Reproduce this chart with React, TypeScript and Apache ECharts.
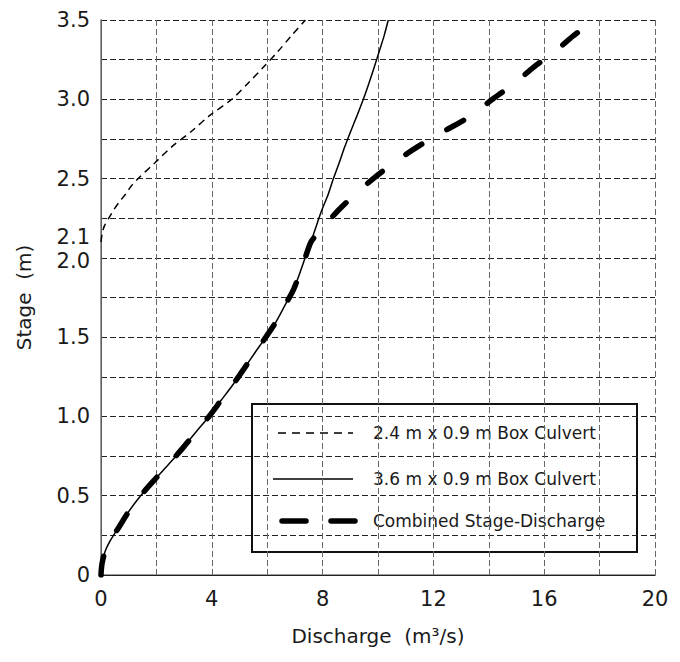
import React, { useEffect, useRef } from 'react';
import * as echarts from 'echarts';

// Stage (m) / discharge (m³/s) pairs for each culvert and the combined rating
const stage3600 = [0, 0.05, 0.1, 0.15, 0.2, 0.25, 0.3, 0.4, 0.5, 0.6, 0.7, 0.8, 0.9, 1.0, 1.1, 1.2, 1.3, 1.4, 1.5, 1.6, 1.7, 1.8, 1.9, 2.0, 2.1, 2.2, 2.3, 2.4, 2.5, 2.6, 2.7, 2.8, 2.9, 3.0, 3.1, 3.2, 3.3, 3.4, 3.5];
const q3600 = [0, 0.02, 0.07, 0.15, 0.28, 0.45, 0.64, 1.0, 1.43, 1.93, 2.45, 2.95, 3.42, 3.9, 4.33, 4.76, 5.16, 5.55, 5.95, 6.33, 6.64, 6.95, 7.17, 7.37, 7.58, 7.77, 7.97, 8.2, 8.39, 8.6, 8.8, 9.02, 9.25, 9.47, 9.67, 9.86, 10.04, 10.22, 10.37];

const stage2400 = [2.1, 2.15, 2.2, 2.25, 2.3, 2.35, 2.4, 2.45, 2.5, 2.6, 2.7, 2.8, 2.9, 3.0, 3.1, 3.2, 3.3, 3.4, 3.5];
const q2400 = [0, 0.04, 0.12, 0.28, 0.45, 0.65, 0.88, 1.08, 1.34, 1.95, 2.55, 3.28, 3.94, 4.72, 5.3, 5.85, 6.38, 6.87, 7.38];

const stageCombined = [0, 0.05, 0.1, 0.15, 0.2, 0.25, 0.3, 0.4, 0.5, 0.6, 0.7, 0.8, 0.9, 1.0, 1.1, 1.2, 1.3, 1.4, 1.5, 1.6, 1.7, 1.8, 1.9, 2.0, 2.1, 2.15, 2.2, 2.3, 2.4, 2.5, 2.6, 2.7, 2.8, 2.9, 3.0, 3.1, 3.2, 3.3, 3.4, 3.5];
const qCombined = [0, 0.02, 0.07, 0.15, 0.28, 0.45, 0.64, 1.0, 1.43, 1.93, 2.45, 2.95, 3.42, 3.9, 4.33, 4.76, 5.16, 5.55, 5.95, 6.33, 6.64, 6.95, 7.17, 7.37, 7.58, 7.8, 8.05, 8.57, 9.17, 9.83, 10.58, 11.42, 12.4, 13.4, 14.13, 14.93, 15.6, 16.38, 17.05, 17.85];

const stageLabels = [0, 0.5, 1, 1.5, 2, 2.1, 2.5, 3, 3.5];
const dischargeLabels = [0, 4, 8, 12, 16, 20];

const seriesNames = [
  '2.4 m x 0.9 m Box Culvert',
  '3.6 m x 0.9 m Box Culvert',
  'Combined Stage-Discharge',
];

const FONT = 'DejaVu Sans';
const TEXT = '#1a1a1a';
const TICK_SIZE = 21;

const pairs = (q: number[], h: number[]) => q.map((v, i) => [v, h[i]]);

export default function App() {
  const ref = useRef<HTMLDivElement>(null);

  useEffect(() => {
    document.body.style.margin = '0';
    if (!ref.current) return;
    const chart = echarts.init(ref.current, null, { renderer: 'svg' });

    const rows = [433, 479, 521];
    const tickText = { fontFamily: FONT, fontSize: TICK_SIZE, color: TEXT };

    chart.setOption({
      animation: false,
      backgroundColor: '#fff',
      textStyle: { fontFamily: FONT },
      grid: { left: 101, top: 20, width: 554, height: 555, containLabel: false },
      xAxis: [
        {
          type: 'value',
          min: 0,
          max: 20,
          interval: 2,
          name: 'Discharge  (m³/s)',
          nameLocation: 'middle',
          nameGap: 51,
          nameTextStyle: { fontFamily: FONT, fontSize: 20, color: TEXT },
          axisLine: { show: true, lineStyle: { color: '#7a7a7a', width: 1.5 } },
          axisTick: { show: false },
          axisLabel: {
            customValues: dischargeLabels,
            ...tickText,
            margin: 13,
            formatter: (v: number) => String(v),
          },
          splitLine: { show: true, lineStyle: { color: '#666', width: 1, type: [6, 3] } },
        },
        {
          type: 'value',
          position: 'top',
          min: 0,
          max: 20,
          interval: 2,
          axisLine: { show: true, lineStyle: { color: '#222', width: 1 } },
          axisTick: { show: false },
          axisLabel: { show: false },
          splitLine: { show: false },
        },
      ],
      yAxis: [
        {
          type: 'value',
          min: 0,
          max: 3.5,
          interval: 0.25,
          name: 'Stage  (m)',
          nameLocation: 'middle',
          nameGap: 67,
          nameTextStyle: { fontFamily: FONT, fontSize: 20, color: TEXT },
          axisLine: { show: true, lineStyle: { color: '#111', width: 1 } },
          axisTick: { show: false },
          axisLabel: {
            customValues: stageLabels,
            ...tickText,
            margin: 11,
            formatter: (v: number) => {
              if (v === 0) return '0';
              // 2.0 and 2.1 sit close together, so push them apart a little
              if (Math.abs(v - 2.1) < 1e-6) return '{up|2.1}';
              if (Math.abs(v - 2) < 1e-6) return '{down|2.0}';
              return v.toFixed(1);
            },
            rich: {
              up: { ...tickText, padding: [0, 0, 10, 0] },
              down: { ...tickText, padding: [6, 0, 0, 0] },
            },
          },
          splitLine: { show: true, lineStyle: { color: '#222', width: 1, type: [6, 3] } },
        },
        {
          type: 'value',
          position: 'right',
          min: 0,
          max: 3.5,
          interval: 0.25,
          axisLine: { show: true, lineStyle: { color: '#7a7a7a', width: 1.5 } },
          axisTick: { show: false },
          axisLabel: { show: false },
          splitLine: { show: false },
        },
      ],
      series: [
        {
          name: seriesNames[2],
          type: 'line',
          data: pairs(qCombined, stageCombined),
          showSymbol: false,
          smooth: 0.3,
          lineStyle: { color: '#000', width: 5.5, type: [19, 29], cap: 'round' },
          z: 3,
        },
        {
          name: seriesNames[1],
          type: 'line',
          data: pairs(q3600, stage3600),
          showSymbol: false,
          smooth: 0.3,
          lineStyle: { color: '#000', width: 1.5, type: 'solid' },
          z: 4,
        },
        {
          name: seriesNames[0],
          type: 'line',
          data: pairs(q2400, stage2400),
          showSymbol: false,
          smooth: 0.3,
          lineStyle: { color: '#000', width: 1.5, type: [7, 5] },
          z: 4,
        },
      ],
      graphic: [
        {
          type: 'group',
          z: 100,
          children: [
            {
              type: 'rect',
              shape: { x: 252, y: 404, width: 385, height: 148 },
              style: { fill: '#fff', stroke: '#111', lineWidth: 2 },
            },
            {
              type: 'line',
              shape: { x1: 278, y1: rows[0], x2: 353, y2: rows[0] },
              style: { stroke: '#000', lineWidth: 1.5, lineDash: [8, 6] },
            },
            {
              type: 'line',
              shape: { x1: 273, y1: rows[1], x2: 353, y2: rows[1] },
              style: { stroke: '#000', lineWidth: 1.5 },
            },
            {
              type: 'line',
              shape: { x1: 282, y1: rows[2], x2: 306, y2: rows[2] },
              style: { stroke: '#000', lineWidth: 5.5, lineCap: 'round' },
            },
            {
              type: 'line',
              shape: { x1: 331, y1: rows[2], x2: 355, y2: rows[2] },
              style: { stroke: '#000', lineWidth: 5.5, lineCap: 'round' },
            },
            ...seriesNames.map((name, i) => ({
              type: 'text',
              x: 373,
              y: rows[i],
              style: {
                text: name,
                fontFamily: FONT,
                fontSize: 17,
                fill: TEXT,
                verticalAlign: 'middle',
              },
            })),
          ],
        },
      ],
    });

    return () => chart.dispose();
  }, []);

  return <div ref={ref} style={{ width: 680, height: 662 }} />;
}
